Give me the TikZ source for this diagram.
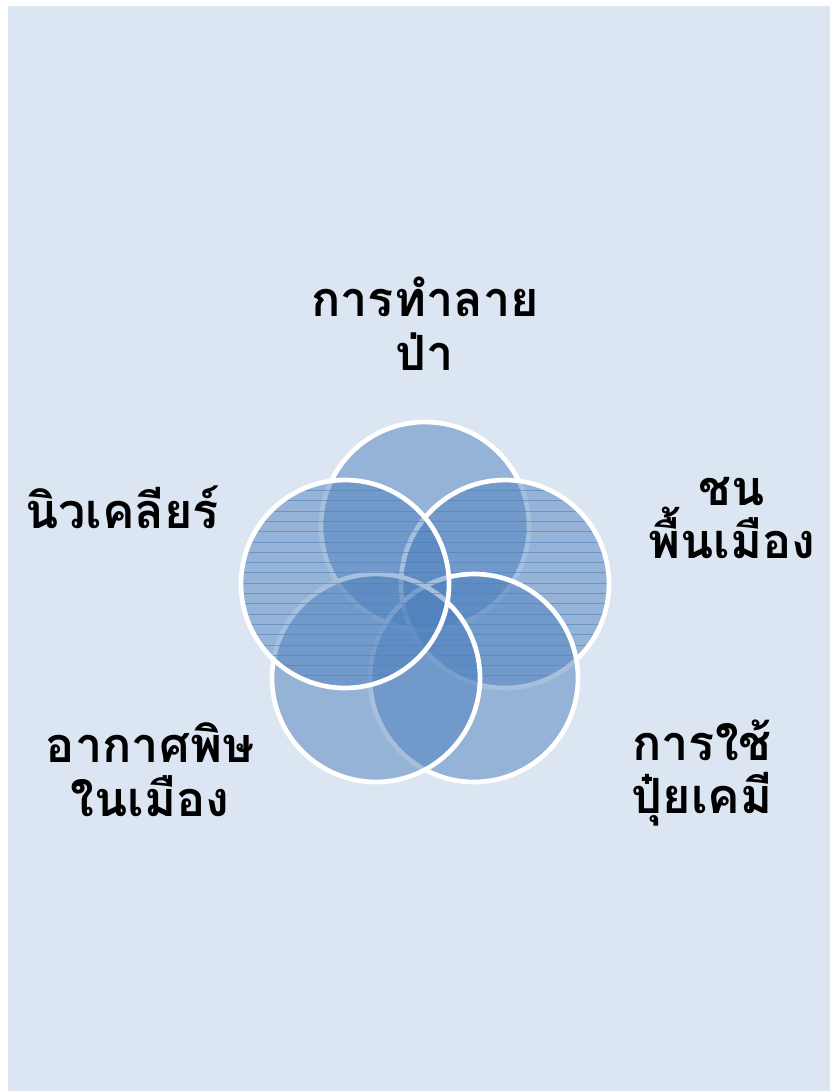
\documentclass[tikz,border=0pt]{standalone}
\usepackage{fontspec}
\newfontfamily\thaifont[Script=Thai]{Loma}
\usepackage{tikz}

\definecolor{paper}{HTML}{DCE6F2}
\definecolor{vennblue}{HTML}{4F81BD}
\tikzset{
  vennfill/.style={fill=vennblue, fill opacity=0.5},
  vennring/.style={draw=white, line width=4pt},
  hline/.style={draw=vennblue, line width=0.5pt, opacity=0.6},
  lbl/.style={font=\thaifont\bfseries\fontsize{41.5}{46}\selectfont, align=center, text=black}
}

\begin{document}
\begin{tikzpicture}[x=0.03cm,y=-0.03cm]
  \useasboundingbox (0,0) rectangle (830,1091);
  \fill[paper] (8,6) rectangle (830,1091);

  % centres of the five circles
  \coordinate (ctop) at (425,526);
  \coordinate (cright) at (505,584);
  \coordinate (cbright) at (474,678);
  \coordinate (cbleft) at (376,678);
  \coordinate (cleft) at (345,584);

  % top circle
  \fill[vennfill] (ctop) circle (104);
  \draw[vennring] (ctop) circle (104);

  % right circle, lined
  \fill[vennfill] (cright) circle (104);
  \begin{scope}
    \clip (cright) circle (104);
    \foreach \k in {-10,...,10}
      \draw[hline] ([shift={(-110,\k*10.3-1)}]cright) -- ([shift={(110,\k*10.3-1)}]cright);
  \end{scope}
  \draw[vennring] (cright) circle (104);

  % bottom right circle
  \fill[vennfill] (cbright) circle (104);
  \draw[vennring] (cbright) circle (104);

  % bottom left circle
  \fill[vennfill] (cbleft) circle (104);
  \draw[vennring] (cbleft) circle (104);

  % left circle, lined
  \fill[vennfill] (cleft) circle (104);
  \begin{scope}
    \clip (cleft) circle (104);
    \foreach \k in {-10,...,10}
      \draw[hline] ([shift={(-110,\k*10.3-1)}]cleft) -- ([shift={(110,\k*10.3-1)}]cleft);
  \end{scope}
  \draw[vennring] (cleft) circle (104);

  % labels
  \node[lbl] (forest) at (425,324) {การทำลาย\\ป่า};
  \node[lbl] (native) at (732,518) {ชน\\พื้นเมือง};
  \node[lbl] (chem) at (702,773) {การใช้\\ปุ๋ยเคมี};
  \node[lbl] (air) at (150,770) {อากาศพิษ\\ในเมือง};
  \node[lbl] (nuclear) at (122,507) {นิวเคลียร์};
\end{tikzpicture}
\end{document}
